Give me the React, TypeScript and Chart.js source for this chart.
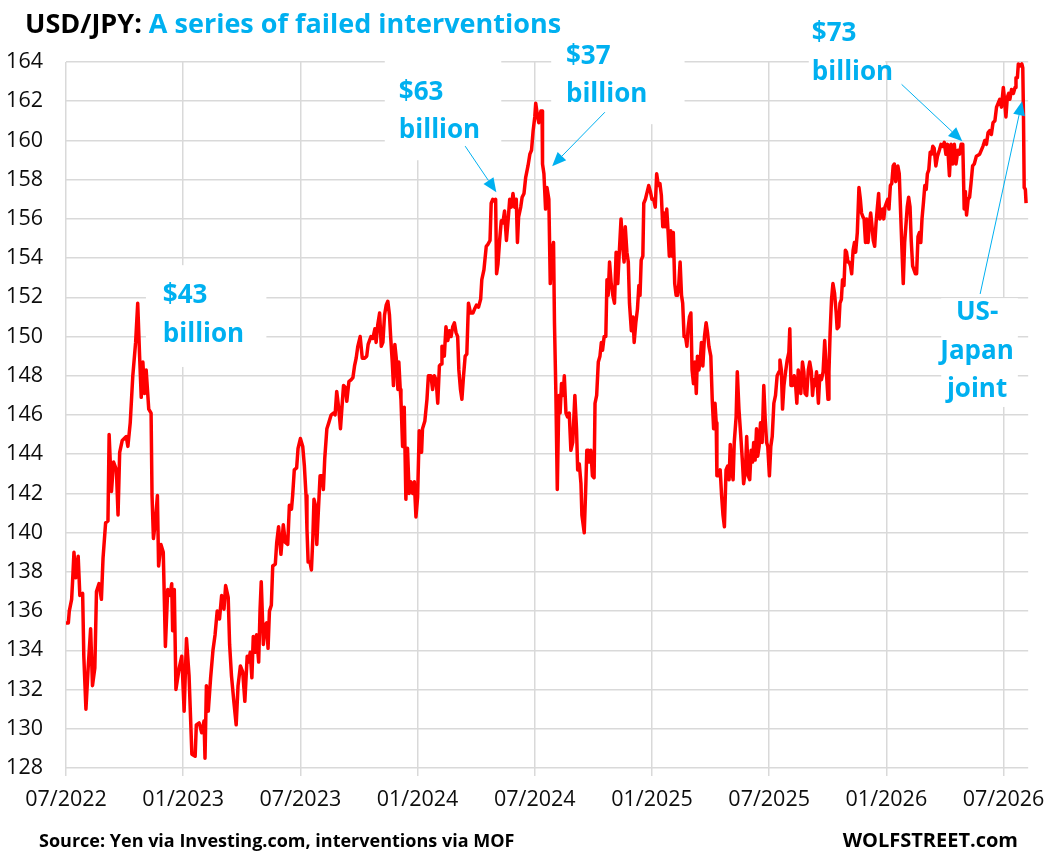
import React, { useEffect, useRef } from "react";
import { Chart, registerables } from "chart.js";

Chart.register(...registerables);

// ---- axis definitions ----
const tickYears = [2022.5, 2023, 2023.5, 2024, 2024.5, 2025, 2025.5, 2026, 2026.5];
const tickLabels = ["07/2022", "01/2023", "07/2023", "01/2024", "07/2024", "01/2025", "07/2025", "01/2026", "07/2026"];
const yMin = 128;
const yMax = 164;
const yStep = 2;
const xMin = 2022.5;
const xMax = 2026.605;

// ---- USD/JPY, dates as decimal years ----
const t2022 = [2022.5, 2022.51, 2022.514, 2022.524, 2022.528, 2022.534, 2022.542, 2022.552, 2022.559, 2022.571, 2022.576, 2022.585, 2022.595, 2022.605, 2022.613, 2022.623, 2022.63, 2022.641, 2022.651, 2022.658, 2022.669, 2022.679, 2022.684, 2022.694, 2022.703, 2022.715, 2022.722, 2022.729, 2022.74, 2022.757, 2022.764, 2022.774, 2022.785, 2022.797, 2022.806, 2022.814, 2022.821, 2022.828, 2022.835, 2022.842, 2022.853, 2022.863, 2022.867, 2022.873, 2022.881, 2022.89, 2022.895, 2022.905, 2022.915, 2022.924, 2022.934, 2022.944, 2022.951, 2022.955, 2022.962, 2022.969, 2022.983, 2022.994];
const v2022 = [135.4, 135.4, 136.0, 136.6, 137.5, 139.0, 137.7, 138.8, 136.8, 136.9, 133.7, 131.0, 133.2, 135.1, 132.2, 133.1, 137.0, 137.4, 136.6, 138.7, 140.5, 140.6, 145.0, 142.1, 143.6, 143.2, 140.9, 144.1, 144.7, 144.9, 144.4, 145.6, 148.0, 149.7, 151.7, 149.0, 146.9, 148.7, 147.1, 148.3, 146.3, 146.1, 141.9, 139.7, 140.5, 141.9, 138.3, 139.4, 139.0, 134.2, 137.1, 136.8, 137.4, 135.0, 137.1, 132.0, 133.1, 133.7];

const t2023 = [2023.004, 2023.014, 2023.025, 2023.037, 2023.051, 2023.056, 2023.068, 2023.079, 2023.089, 2023.093, 2023.099, 2023.107, 2023.117, 2023.127, 2023.136, 2023.145, 2023.155, 2023.164, 2023.174, 2023.181, 2023.192, 2023.198, 2023.206, 2023.216, 2023.226, 2023.234, 2023.244, 2023.254, 2023.263, 2023.273, 2023.279, 2023.286, 2023.293, 2023.299, 2023.308, 2023.313, 2023.322, 2023.328, 2023.333, 2023.342, 2023.35, 2023.356, 2023.362, 2023.368, 2023.376, 2023.382, 2023.393, 2023.399, 2023.407, 2023.417, 2023.427, 2023.436, 2023.446, 2023.453, 2023.462, 2023.467, 2023.474, 2023.484, 2023.49, 2023.5, 2023.51, 2023.517, 2023.524, 2023.528, 2023.533, 2023.541, 2023.547, 2023.553, 2023.558, 2023.564, 2023.57, 2023.575, 2023.584, 2023.593, 2023.598, 2023.604, 2023.613, 2023.621, 2023.631, 2023.641, 2023.648, 2023.655, 2023.664, 2023.671, 2023.678, 2023.684, 2023.692, 2023.698, 2023.707, 2023.717, 2023.724, 2023.731, 2023.738, 2023.745, 2023.755, 2023.764, 2023.774, 2023.783, 2023.789, 2023.801, 2023.809, 2023.818, 2023.823, 2023.83, 2023.838, 2023.845, 2023.852, 2023.859, 2023.866, 2023.873, 2023.88, 2023.885, 2023.892, 2023.897, 2023.903, 2023.909, 2023.916, 2023.92, 2023.926, 2023.929, 2023.936, 2023.943, 2023.95, 2023.957, 2023.964, 2023.971, 2023.979, 2023.986, 2023.993];
const v2023 = [130.9, 134.6, 132.7, 128.7, 128.6, 130.2, 130.3, 129.8, 130.4, 128.5, 132.2, 130.9, 132.6, 134.0, 134.8, 136.0, 135.6, 136.8, 136.1, 137.3, 136.7, 134.3, 132.7, 131.4, 130.2, 132.2, 133.2, 132.9, 131.4, 133.7, 133.4, 133.9, 132.6, 134.7, 133.9, 134.8, 133.4, 136.1, 137.5, 134.3, 135.3, 135.4, 134.1, 136.0, 136.3, 138.3, 138.4, 139.5, 140.3, 138.9, 140.4, 139.5, 139.4, 141.4, 141.2, 141.9, 143.2, 143.3, 144.3, 144.8, 144.4, 143.4, 141.9, 140.2, 138.5, 138.5, 138.1, 139.7, 141.7, 141.4, 139.4, 140.7, 142.9, 142.9, 142.2, 143.8, 145.3, 145.6, 146.0, 146.1, 146.0, 147.2, 146.3, 145.3, 146.5, 147.5, 147.4, 146.7, 147.7, 147.8, 147.9, 148.5, 148.9, 149.5, 150.0, 148.9, 148.9, 149.0, 149.6, 150.0, 149.9, 150.4, 149.7, 150.6, 151.2, 149.5, 149.7, 151.1, 151.6, 151.8, 151.1, 150.0, 148.7, 147.5, 149.6, 148.9, 147.3, 148.7, 147.3, 146.8, 144.4, 146.4, 141.7, 144.3, 142.0, 142.6, 142.0, 142.6, 140.8];

const t2024 = [2024.0, 2024.007, 2024.017, 2024.021, 2024.031, 2024.04, 2024.046, 2024.057, 2024.064, 2024.071, 2024.079, 2024.086, 2024.093, 2024.1, 2024.104, 2024.114, 2024.121, 2024.129, 2024.136, 2024.143, 2024.15, 2024.157, 2024.164, 2024.171, 2024.176, 2024.183, 2024.189, 2024.196, 2024.203, 2024.21, 2024.217, 2024.226, 2024.236, 2024.243, 2024.251, 2024.26, 2024.269, 2024.274, 2024.283, 2024.293, 2024.3, 2024.309, 2024.314, 2024.321, 2024.329, 2024.333, 2024.337, 2024.343, 2024.35, 2024.357, 2024.364, 2024.371, 2024.379, 2024.386, 2024.393, 2024.4, 2024.407, 2024.414, 2024.421, 2024.426, 2024.431, 2024.44, 2024.446, 2024.454, 2024.461, 2024.471, 2024.479, 2024.486, 2024.493, 2024.5, 2024.504, 2024.511, 2024.517, 2024.526, 2024.531, 2024.533, 2024.539, 2024.546, 2024.552, 2024.56, 2024.566, 2024.573, 2024.58, 2024.584, 2024.59, 2024.596, 2024.603, 2024.608, 2024.614, 2024.621, 2024.626, 2024.633, 2024.64, 2024.647, 2024.654, 2024.662, 2024.671, 2024.678, 2024.683, 2024.69, 2024.697, 2024.701, 2024.711, 2024.718, 2024.722, 2024.729, 2024.733, 2024.739, 2024.746, 2024.753, 2024.757, 2024.764, 2024.771, 2024.778, 2024.784, 2024.789, 2024.796, 2024.803, 2024.808, 2024.813, 2024.819, 2024.826, 2024.833, 2024.84, 2024.847, 2024.854, 2024.861, 2024.868, 2024.875, 2024.881, 2024.886, 2024.893, 2024.899, 2024.904, 2024.912, 2024.919, 2024.924, 2024.931, 2024.938, 2024.944, 2024.949, 2024.954, 2024.961, 2024.965, 2024.972, 2024.978, 2024.986, 2024.993];
const v2024 = [141.8, 145.2, 144.1, 145.3, 145.7, 146.8, 148.0, 148.0, 147.3, 148.0, 147.8, 146.6, 148.5, 148.6, 149.5, 149.0, 150.5, 149.8, 150.3, 150.0, 150.5, 150.7, 150.2, 150.0, 148.3, 147.3, 146.8, 148.0, 149.0, 149.1, 151.7, 151.2, 151.2, 151.4, 151.6, 151.5, 151.9, 152.9, 153.4, 154.6, 154.7, 154.9, 156.8, 157.0, 156.9, 157.0, 153.2, 153.7, 154.9, 155.9, 155.8, 156.4, 154.9, 155.9, 157.0, 156.6, 157.3, 156.6, 157.0, 154.8, 156.1, 156.6, 157.1, 157.3, 158.1, 158.7, 159.3, 159.5, 160.5, 161.2, 161.9, 161.3, 160.9, 161.5, 161.5, 158.8, 158.3, 156.5, 157.6, 157.0, 152.7, 154.4, 154.8, 150.7, 147.1, 142.2, 147.0, 146.1, 147.6, 147.0, 148.0, 146.1, 145.9, 146.1, 144.2, 144.6, 147.0, 145.3, 143.2, 143.5, 142.5, 140.9, 140.0, 142.5, 144.2, 144.2, 143.6, 144.2, 142.9, 142.8, 146.6, 147.0, 148.7, 149.0, 149.7, 149.3, 150.0, 150.0, 152.9, 152.1, 153.8, 152.7, 152.1, 151.7, 154.3, 152.7, 154.4, 156.0, 154.6, 153.8, 155.6, 154.3, 153.8, 151.7, 150.3, 151.0, 149.7, 150.7, 151.4, 152.6, 152.1, 153.9, 154.1, 156.8, 157.0, 157.3, 157.7, 157.4];

const t2025 = [2025.0, 2025.007, 2025.014, 2025.02, 2025.027, 2025.034, 2025.04, 2025.046, 2025.051, 2025.057, 2025.063, 2025.069, 2025.074, 2025.08, 2025.086, 2025.091, 2025.097, 2025.103, 2025.109, 2025.114, 2025.12, 2025.126, 2025.131, 2025.137, 2025.143, 2025.149, 2025.154, 2025.16, 2025.166, 2025.171, 2025.177, 2025.183, 2025.189, 2025.194, 2025.2, 2025.206, 2025.211, 2025.217, 2025.224, 2025.231, 2025.237, 2025.243, 2025.251, 2025.257, 2025.263, 2025.269, 2025.274, 2025.277, 2025.284, 2025.291, 2025.297, 2025.303, 2025.309, 2025.316, 2025.323, 2025.329, 2025.334, 2025.34, 2025.346, 2025.351, 2025.359, 2025.364, 2025.371, 2025.379, 2025.386, 2025.391, 2025.399, 2025.404, 2025.411, 2025.417, 2025.423, 2025.429, 2025.434, 2025.44, 2025.446, 2025.451, 2025.457, 2025.463, 2025.47, 2025.477, 2025.483, 2025.489, 2025.494, 2025.501, 2025.507, 2025.513, 2025.52, 2025.527, 2025.534, 2025.542, 2025.546, 2025.552, 2025.557, 2025.563, 2025.57, 2025.577, 2025.584, 2025.588, 2025.593, 2025.6, 2025.607, 2025.613, 2025.618, 2025.624, 2025.63, 2025.635, 2025.642, 2025.648, 2025.653, 2025.66, 2025.667, 2025.673, 2025.68, 2025.685, 2025.691, 2025.696, 2025.702, 2025.71, 2025.716, 2025.723, 2025.73, 2025.737, 2025.744, 2025.751, 2025.755, 2025.76, 2025.766, 2025.772, 2025.779, 2025.786, 2025.79, 2025.797, 2025.802, 2025.808, 2025.813, 2025.819, 2025.825, 2025.83, 2025.836, 2025.841, 2025.847, 2025.852, 2025.858, 2025.864, 2025.869, 2025.876, 2025.883, 2025.889, 2025.894, 2025.9, 2025.905, 2025.911, 2025.916, 2025.922, 2025.928, 2025.933, 2025.939, 2025.944, 2025.95, 2025.956, 2025.961, 2025.967, 2025.972, 2025.978, 2025.983, 2025.989, 2025.994];
const v2025 = [157.0, 157.0, 156.6, 158.3, 157.7, 157.8, 157.2, 155.6, 156.3, 155.6, 156.5, 155.3, 154.1, 155.4, 154.1, 155.3, 152.7, 152.1, 152.1, 152.6, 153.8, 152.1, 151.7, 150.0, 150.0, 149.5, 150.4, 151.0, 151.2, 148.3, 147.6, 148.7, 147.1, 149.0, 148.3, 148.8, 149.7, 148.5, 150.0, 150.7, 150.2, 149.5, 149.0, 146.8, 145.3, 146.6, 145.6, 142.9, 142.9, 143.2, 141.9, 140.9, 140.3, 143.2, 143.4, 142.7, 144.5, 143.2, 142.7, 144.6, 145.9, 148.2, 146.3, 144.9, 143.6, 142.5, 143.2, 144.9, 142.9, 142.7, 144.2, 143.6, 144.6, 143.7, 145.3, 143.9, 144.4, 145.6, 144.6, 147.5, 145.8, 144.6, 144.4, 142.9, 144.4, 144.9, 146.6, 147.0, 148.0, 148.2, 148.8, 148.3, 146.3, 147.5, 148.2, 148.8, 149.2, 150.4, 147.5, 147.5, 148.0, 147.5, 146.6, 148.3, 147.6, 147.1, 148.7, 148.2, 147.1, 147.0, 148.3, 148.7, 148.2, 147.0, 147.8, 147.5, 148.2, 146.6, 148.0, 147.8, 148.2, 149.8, 148.2, 146.8, 148.2, 150.2, 151.9, 152.7, 152.2, 151.2, 150.4, 150.5, 151.7, 151.9, 152.9, 152.6, 154.4, 154.3, 153.8, 153.8, 153.6, 153.2, 154.4, 154.8, 154.3, 155.3, 157.6, 157.0, 156.3, 156.1, 156.0, 154.8, 156.0, 154.8, 155.8, 156.3, 155.6, 154.9, 154.6, 155.8, 156.5, 157.3, 156.0, 156.1, 156.5, 156.0, 156.6];

const t2026 = [2026.0, 2026.006, 2026.011, 2026.017, 2026.023, 2026.029, 2026.034, 2026.04, 2026.049, 2026.055, 2026.06, 2026.066, 2026.072, 2026.078, 2026.083, 2026.089, 2026.095, 2026.101, 2026.106, 2026.112, 2026.118, 2026.124, 2026.129, 2026.135, 2026.141, 2026.147, 2026.152, 2026.158, 2026.164, 2026.17, 2026.175, 2026.181, 2026.187, 2026.193, 2026.198, 2026.204, 2026.211, 2026.218, 2026.226, 2026.233, 2026.24, 2026.247, 2026.254, 2026.261, 2026.269, 2026.276, 2026.283, 2026.29, 2026.297, 2026.305, 2026.312, 2026.319, 2026.326, 2026.332, 2026.337, 2026.342, 2026.349, 2026.355, 2026.361, 2026.368, 2026.375, 2026.384, 2026.398, 2026.412, 2026.42, 2026.427, 2026.434, 2026.441, 2026.448, 2026.455, 2026.463, 2026.47, 2026.477, 2026.484, 2026.491, 2026.499, 2026.504, 2026.51, 2026.516, 2026.522, 2026.527, 2026.534, 2026.542, 2026.549, 2026.553, 2026.559, 2026.563, 2026.57, 2026.578, 2026.582, 2026.585, 2026.588, 2026.593, 2026.596];
const v2026 = [156.8, 157.0, 156.5, 157.7, 157.8, 158.7, 158.8, 157.9, 158.7, 158.3, 156.6, 154.6, 152.7, 154.8, 155.6, 156.6, 157.1, 156.6, 154.9, 153.6, 153.4, 153.2, 153.2, 155.1, 155.3, 154.8, 156.0, 156.8, 157.7, 157.5, 158.3, 158.5, 159.4, 159.3, 159.7, 159.6, 158.7, 159.2, 159.5, 159.8, 159.7, 159.9, 159.3, 159.8, 158.2, 159.8, 158.8, 159.8, 158.8, 159.5, 159.3, 159.8, 159.8, 156.5, 157.4, 156.2, 157.0, 157.1, 157.8, 158.7, 158.8, 159.2, 159.3, 159.7, 160.0, 159.8, 160.4, 160.5, 160.3, 160.9, 161.0, 161.7, 161.9, 162.1, 161.7, 162.7, 162.1, 161.2, 162.2, 162.4, 162.1, 162.6, 162.4, 162.7, 163.2, 163.2, 163.9, 163.8, 163.9, 163.7, 161.2, 157.6, 157.5, 156.8];

const dates = [...t2022, ...t2023, ...t2024, ...t2025, ...t2026];
const usdjpy = [...v2022, ...v2023, ...v2024, ...v2025, ...v2026];

// ---- annotations (anchored in data units: decimal year / yen) ----
type Note = {
  lines: string[];
  x: number;
  y: number;
  align: CanvasTextAlign;
  box: [number, number, number, number];
  arrow?: [number, number, number, number];
};
const notes: Note[] = [
  { lines: ["$43", "billion"], x: 2022.913, y: 151.71, align: "left", box: [2022.841, 2023.355, 153.64, 148.45] },
  { lines: ["$63", "billion"], x: 2023.92, y: 162.07, align: "left", box: [2023.86, 2024.357, 164.6, 158.99], arrow: [2024.203, 159.71, 2024.336, 157.36] },
  { lines: ["$37", "billion"], x: 2024.633, y: 163.92, align: "left", box: [2024.57, 2025.139, 165.87, 160.83], arrow: [2024.799, 161.44, 2024.574, 158.69] },
  { lines: ["$73", "billion"], x: 2025.682, y: 165.05, align: "left", box: [2025.669, 2025.995, 164.6, 162.76], arrow: [2026.065, 162.86, 2026.324, 159.96] },
  { lines: ["US-", "Japan", "joint"], x: 2026.387, y: 150.84, align: "center", box: [2026.234, 2026.561, 151.96, 146.41], arrow: [2026.4, 152.17, 2026.579, 162.0] },
];

const TITLE_A = "USD/JPY:";
const TITLE_B = " A series of failed interventions";
const SOURCE = "Source: Yen via Investing.com, interventions via MOF";
const BRAND = "WOLFSTREET.com";

const BLUE = "#00b0f0";
const GRID = "#d9d9d9";
const FONT = "'Open Sans', 'DejaVu Sans', sans-serif";

const notesPlugin = {
  id: "notes",
  beforeDatasetsDraw(chart: any) {
    const { ctx, scales } = chart;
    const xs = scales.x;
    const ys = scales.y;
    ctx.save();
    ctx.fillStyle = "#ffffff";
    for (const n of notes) {
      const x0 = xs.getPixelForValue(n.box[0]);
      const x1 = xs.getPixelForValue(n.box[1]);
      const y0 = ys.getPixelForValue(n.box[2]);
      const y1 = ys.getPixelForValue(n.box[3]);
      ctx.fillRect(x0, y0, x1 - x0, y1 - y0);
    }
    ctx.restore();
  },
  afterDatasetsDraw(chart: any) {
    const { ctx, scales } = chart;
    const xs = scales.x;
    const ys = scales.y;
    ctx.save();
    // arrows
    ctx.strokeStyle = BLUE;
    ctx.fillStyle = BLUE;
    ctx.lineWidth = 1;
    for (const n of notes) {
      if (!n.arrow) continue;
      const ax = xs.getPixelForValue(n.arrow[0]);
      const ay = ys.getPixelForValue(n.arrow[1]);
      const bx = xs.getPixelForValue(n.arrow[2]);
      const by = ys.getPixelForValue(n.arrow[3]);
      const ang = Math.atan2(by - ay, bx - ax);
      const len = 14;
      const half = 6;
      const baseX = bx - len * Math.cos(ang);
      const baseY = by - len * Math.sin(ang);
      ctx.beginPath();
      ctx.moveTo(ax, ay);
      ctx.lineTo(baseX, baseY);
      ctx.stroke();
      ctx.beginPath();
      ctx.moveTo(bx, by);
      ctx.lineTo(baseX + half * Math.sin(ang), baseY - half * Math.cos(ang));
      ctx.lineTo(baseX - half * Math.sin(ang), baseY + half * Math.cos(ang));
      ctx.closePath();
      ctx.fill();
    }
    // texts
    ctx.font = `bold 26px ${FONT}`;
    ctx.textBaseline = "alphabetic";
    for (const n of notes) {
      ctx.textAlign = n.align;
      const x = xs.getPixelForValue(n.x);
      const y = ys.getPixelForValue(n.y);
      n.lines.forEach((line, i) => ctx.fillText(line, x, y + i * 38.5));
    }
    ctx.restore();
  },
  afterDraw(chart: any) {
    const { ctx } = chart;
    ctx.save();
    ctx.textBaseline = "alphabetic";
    ctx.textAlign = "left";
    ctx.font = `bold 27px ${FONT}`;
    ctx.fillStyle = "#000000";
    ctx.fillText(TITLE_A, 25, 33);
    const w = ctx.measureText(TITLE_A).width;
    ctx.fillStyle = BLUE;
    ctx.fillText(TITLE_B, 25 + w, 33);
    ctx.fillStyle = "#000000";
    ctx.font = `bold 18px ${FONT}`;
    ctx.fillText(SOURCE, 39, 847);
    ctx.textAlign = "right";
    ctx.font = `bold 20px ${FONT}`;
    ctx.fillText(BRAND, 1018, 847);
    ctx.restore();
  },
};

export default function App() {
  const ref = useRef<HTMLCanvasElement | null>(null);
  useEffect(() => {
    if (!ref.current) return;
    const points = dates.map((x, i) => ({ x, y: usdjpy[i] }));
    const chart = new Chart(ref.current, {
      type: "line",
      data: {
        datasets: [
          {
            data: points,
            borderColor: "#ff0000",
            borderWidth: 3.5,
            pointRadius: 0,
            tension: 0,
            fill: false,
            clip: 6,
            borderJoinStyle: "round",
          } as any,
        ],
      },
      options: {
        responsive: false,
        animation: false,
        devicePixelRatio: 1,
        layout: { padding: { top: 62, right: 24, bottom: 0, left: 0 } },
        plugins: { legend: { display: false }, tooltip: { enabled: false }, title: { display: false } },
        scales: {
          x: {
            type: "linear",
            min: xMin,
            max: xMax,
            afterBuildTicks: (scale: any) => {
              scale.ticks = tickYears.map((v) => ({ value: v }));
            },
            afterFit: (scale: any) => {
              scale.height = 88;
            },
            ticks: {
              autoSkip: false,
              maxRotation: 0,
              padding: 11,
              color: "#0d0d0d",
              font: { family: FONT, size: 21.5 },
              callback: (_v: any, i: number) => tickLabels[i],
            },
            grid: { color: GRID, lineWidth: 1.5, drawTicks: true, tickLength: 8, tickColor: GRID },
            border: { display: false },
          },
          y: {
            min: yMin,
            max: yMax,
            ticks: {
              stepSize: yStep,
              padding: 23,
              color: "#0d0d0d",
              font: { family: FONT, size: 21.5 },
            },
            afterFit: (scale: any) => {
              scale.width = 66;
            },
            grid: { color: GRID, lineWidth: 1.5, drawTicks: false },
            border: { display: false },
          },
        },
      },
      plugins: [notesPlugin],
    });
    return () => chart.destroy();
  }, []);
  return (
    <div style={{ position: "absolute", left: 0, top: 0, width: 1056, height: 856, background: "#ffffff" }}>
      <canvas ref={ref} width={1056} height={856} style={{ display: "block" }} />
    </div>
  );
}
